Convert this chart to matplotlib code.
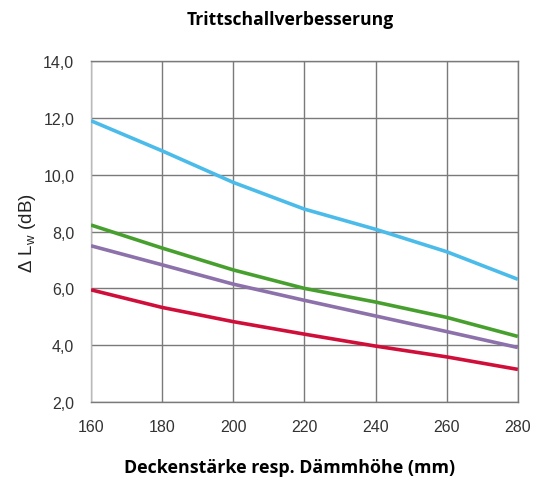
import matplotlib.pyplot as plt
from matplotlib.ticker import FuncFormatter

# Deckenstärke (mm)
thickness = [160, 180, 200, 220, 240, 260, 280]

# Trittschallverbesserung je Aufbau (dB)
blue_vals = [11.9, 10.84, 9.73, 8.79, 8.08, 7.29, 6.32]
green_vals = [8.23, 7.42, 6.65, 6.0, 5.52, 4.98, 4.31]
purple_vals = [7.5, 6.83, 6.15, 5.58, 5.03, 4.48, 3.92]
red_vals = [5.95, 5.33, 4.83, 4.39, 3.97, 3.59, 3.15]

series = [
    (blue_vals, "#4bbbea"),
    (green_vals, "#47a02e"),
    (purple_vals, "#8c71ab"),
    (red_vals, "#cf0f3a"),
]

fig = plt.figure(figsize=(5.48, 4.81), dpi=100)
ax = fig.add_axes([0.166, 0.162, 0.779, 0.709])

for vals, col in series:
    ax.plot(thickness, vals, color=col, lw=2.6, solid_capstyle="butt", zorder=3)

ax.set_xlim(160, 280)
ax.set_ylim(2, 14)
ax.set_xticks(range(160, 281, 20))
ax.set_yticks(range(2, 15, 2))
ax.yaxis.set_major_formatter(FuncFormatter(lambda v, p: f"{v:.1f}".replace(".", ",")))
ax.grid(True, color="#7a7a7a", lw=1.0)
ax.tick_params(axis="x", length=0, labelsize=11.5, pad=12, colors="#333333")
ax.tick_params(axis="y", length=0, labelsize=11.5, pad=12, colors="#333333")
for lab in ax.get_xticklabels() + ax.get_yticklabels():
    lab.set_family("Liberation Sans")

for side in ["top", "right", "bottom"]:
    ax.spines[side].set_color("#7a7a7a")
    ax.spines[side].set_linewidth(1.0)
ax.spines["left"].set_color("#bbbbbb")
ax.spines["left"].set_linewidth(1.0)

fig.text(0.529, 0.958, "Trittschallverbesserung", ha="center", va="center",
         fontsize=12.6, fontweight="bold", family="Open Sans")
fig.text(0.529, 0.027, "Deckenstärke resp. Dämmhöhe (mm)", ha="center", va="center",
         fontsize=12.9, fontweight="bold", family="Open Sans")
ax.set_ylabel(r"Δ L$_\mathregular{w}$ (dB)", fontsize=13.5, family="Liberation Sans",
              labelpad=4, color="#222222")

fig.savefig("out.png", dpi=100)
